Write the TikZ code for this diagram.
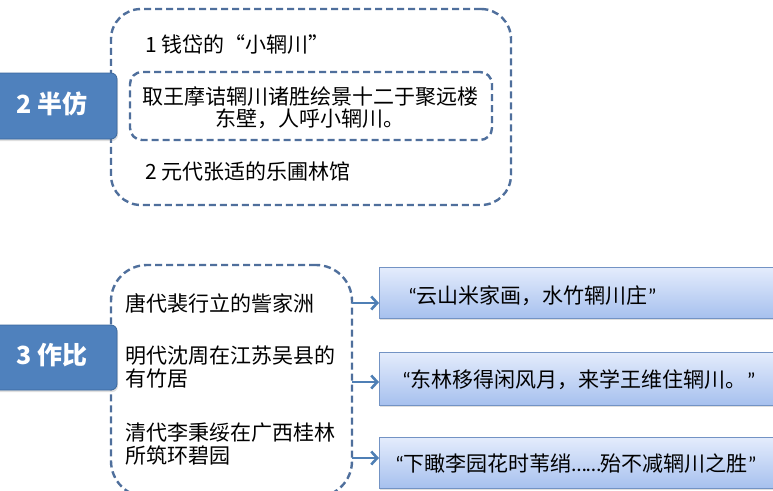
\documentclass[tikz,border=0pt]{standalone}
\usepackage{fontspec}
\setmainfont{Noto Sans CJK SC}
\newfontfamily\latf{Carlito}
\usetikzlibrary{arrows.meta,shadows}
\definecolor{dashblue}{HTML}{4F6F9C}
\definecolor{titleblue}{HTML}{4F81BD}
\definecolor{titleedge}{HTML}{3A679C}
\definecolor{boxtop}{HTML}{E4ECFC}
\definecolor{boxbot}{HTML}{A6C0EE}
\definecolor{boxedge}{HTML}{7393C4}
\definecolor{arrblue}{HTML}{4F7FB5}
\newcommand\myoq{{\latf “}}
\newcommand\mycq{{\latf ”}}
\tikzset{
  dashbox/.style={draw=dashblue, line width=2.4pt, dash pattern=on 7pt off 4pt, rounded corners=#1, inner sep=0pt},
  titlebox/.style={fill=titleblue, draw=titleedge, line width=0.8pt, rounded corners=6pt, inner sep=0pt,
    drop shadow={opacity=0.25, shadow xshift=1pt, shadow yshift=-2pt}},
  titletxt/.style={text=white, font=\fontsize{25}{28}\selectfont\bfseries, inner sep=0pt},
  quotebox/.style={top color=boxtop, bottom color=boxbot, draw=boxedge, line width=0.8pt, inner sep=0pt,
    drop shadow={opacity=0.25, shadow xshift=1pt, shadow yshift=-2pt}},
  txt/.style={font=\fontsize{21}{23}\selectfont, text=black, inner sep=0pt, align=left},
  ctxt/.style={font=\fontsize{21}{22}\selectfont, text=black, inner sep=0pt, align=center},
  arr/.style={draw=arrblue, line width=2.6pt, -{Straight Barb[length=6pt,width=13pt,line width=2.6pt]}}
}
\begin{document}
\begin{tikzpicture}[x=1pt,y=-1pt]
\useasboundingbox (0,0) rectangle (773,490);
\clip (0,0) rectangle (773,490);
\fill[white] (0,0) rectangle (773,490);

% ---- section 2 ----
\node[dashbox=30pt, minimum width=400pt, minimum height=196pt] (s2) at (311,107) {};
\node[dashbox=12pt, minimum width=362pt, minimum height=68pt] (s2in) at (311,106) {};
\node[titlebox, minimum width=127pt, minimum height=66pt] (t2) at (53.5,106) {};
\node[titletxt] (t2l) at (52,104) {2 半仿};
\node[txt, anchor=west] (a1) at (145,45) {1 钱岱的“小辋川”};
\node[ctxt] (a2) at (310,108) {取王摩诘辋川诸胜绘景十二于聚远楼\\东壁，人呼小辋川。};
\node[txt, anchor=west] (a3) at (145,172) {2 元代张适的乐圃林馆};

% ---- section 3 ----
\node[dashbox=36pt, minimum width=241pt, minimum height=232pt] (s3) at (231.5,381) {};
\node[titlebox, minimum width=127pt, minimum height=65pt] (t3) at (53.5,357.5) {};
\node[titletxt] (t3l) at (52,355) {3 作比};
\node[txt, anchor=west] (b1) at (125,303) {唐代裴行立的訾家洲};
\node[txt, anchor=west] (b2) at (125,367) {明代沈周在江苏吴县的\\有竹居};
\node[txt, anchor=west] (b3) at (125,444) {清代李秉绥在广西桂林\\所筑环碧园};

\node[quotebox, minimum width=420pt, minimum height=51pt, anchor=north west] (r1) at (379,267) {};
\node[quotebox, minimum width=420pt, minimum height=53pt, anchor=north west] (r2) at (379,352) {};
\node[quotebox, minimum width=420pt, minimum height=51pt, anchor=north west] (r3) at (379,437) {};

\node[txt, anchor=west] (q1) at (408,296) {\myoq 云山米家画，水竹辋川庄\mycq};
\node[txt, anchor=west] (q2) at (402,380) {\myoq 东林移得闲风月，来学王维住辋川。\mycq};
\node[txt, anchor=west] (q3) at (395,464) {\myoq 下瞰李园花时苇绡{\latf ……}殆不减辋川之胜\mycq};

\coordinate (p1) at (352,303);
\coordinate (p2) at (352,382);
\coordinate (p3) at (352,458);
\draw[arr] (p1) -- (p1 -| r1.west);
\draw[arr] (p2) -- (p2 -| r2.west);
\draw[arr] (p3) -- (p3 -| r3.west);
\end{tikzpicture}
\end{document}
